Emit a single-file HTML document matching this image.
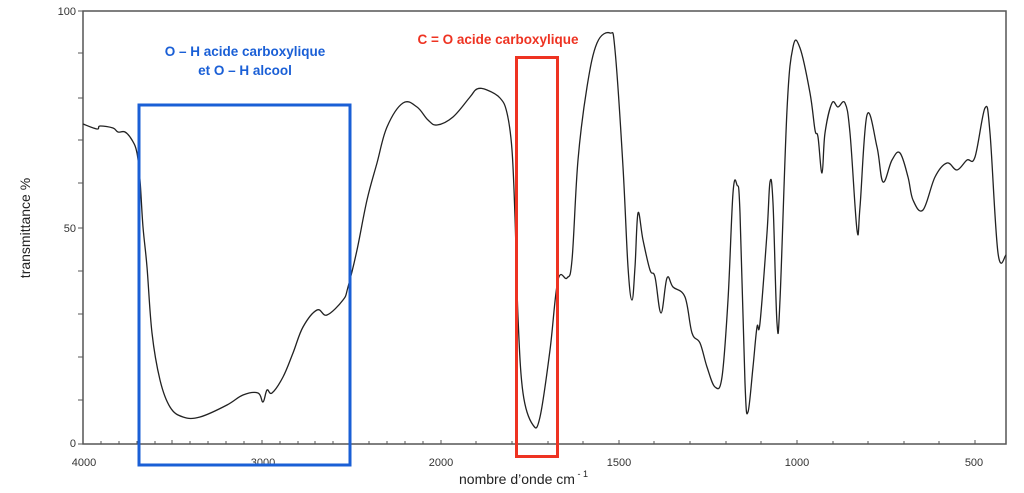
<!DOCTYPE html>
<html><head><meta charset="utf-8"><style>
body{margin:0;background:#fff;}
svg{display:block;font-family:"Liberation Sans",sans-serif;}
</style></head><body>
<svg width="1024" height="493" viewBox="0 0 1024 493">
<rect x="83" y="11" width="923" height="433" fill="none" stroke="#555" stroke-width="1.5"/>
<g stroke="#555" stroke-width="1">
<path d="M78 11H83M78 53H83M78 98H83M78 140H83M78 183H83M78 228H83M78 271H83M78 314H83M78 357H83M78 400H83M78 444H83"/>
<path d="M83 444v-4M101 444v-3M119 444v-3M137 444v-3M155 444v-3M172 444v-4M190 444v-3M208 444v-3M226 444v-3M244 444v-3M262 444v-4M280 444v-3M298 444v-3M315 444v-3M333 444v-3M351 444v-4M369 444v-3M387 444v-3M405 444v-3M423 444v-3M441 444v-4M476 444v-3M512 444v-3M548 444v-3M583 444v-3M619 444v-4M654 444v-3M690 444v-3M726 444v-3M761 444v-3M797 444v-4M833 444v-3M868 444v-3M904 444v-3M939 444v-3M975 444v-4"/>
</g>
<g font-size="11" fill="#333">
<text x="76" y="15" text-anchor="end">100</text>
<text x="76" y="232" text-anchor="end">50</text>
<text x="76" y="447" text-anchor="end">0</text>
<text x="84" y="466" text-anchor="middle">4000</text>
<text x="263" y="466" text-anchor="middle">3000</text>
<text x="441" y="466" text-anchor="middle">2000</text>
<text x="619" y="466" text-anchor="middle">1500</text>
<text x="797" y="466" text-anchor="middle">1000</text>
<text x="974" y="466" text-anchor="middle">500</text>
</g>
<text transform="translate(30,228) rotate(-90)" font-size="14" fill="#222" text-anchor="middle">transmittance %</text>
<text x="459" y="484" font-size="14" fill="#222">nombre d’onde cm<tspan font-size="9" dy="-7"> - 1</tspan></text>
<polyline id="curve" fill="none" stroke="#222" stroke-width="1.3" stroke-linejoin="round" points="83,124 97,129 100,126 113,128 118,132 125,132 132,140 137,153 140,180 143,227 147,267 152,333 160,380 170,407 183,417 200,417 227,405 243,395 258,393 263,402 267,390 272,393 283,377 293,353 303,327 317,310 327,315 343,300 348,287 357,250 367,200 377,163 387,127 403,103 417,107 428,120 437,125 453,117 470,97 477,89 487,90 500,98 507,113 512,150 515,217 518,317 523,393 533,425 540,417 550,350 558,280 567,278 572,260 578,160 587,87 597,43 610,33 615,50 623,167 628,267 632,300 635,267 638,213 643,240 650,270 655,277 661,313 667,278 673,287 685,297 692,333 700,343 707,367 715,387 722,377 728,300 733,193 737,185 740,213 745,383 748,412 753,367 757,327 760,323 767,233 770,182 773,203 777,323 780,300 787,110 793,47 800,48 810,93 815,130 818,137 822,173 825,133 832,103 838,107 845,103 850,133 857,230 860,207 867,115 877,147 883,182 892,160 900,153 908,177 913,200 923,210 935,177 947,163 957,170 967,160 975,157 985,108 990,133 998,253 1006,255"/>
<rect x="139" y="105" width="211" height="360" fill="none" stroke="#1a5fd6" stroke-width="3"/>
<rect x="516.5" y="57.5" width="41" height="399" fill="none" stroke="#ee3322" stroke-width="3"/>
<g font-weight="bold" font-size="13.5" text-anchor="middle">
<text x="245" y="56" fill="#1a5fd6">O – H acide carboxylique</text>
<text x="245" y="75" fill="#1a5fd6">et O – H alcool</text>
<text x="498" y="44" fill="#ee3322">C = O acide carboxylique</text>
</g>
</svg>
<script>
(function(){
var pl=document.getElementById('curve');
var pts=pl.getAttribute('points').trim().split(/\s+/).map(function(s){return s.split(',').map(Number);});
var d='M'+pts[0][0]+' '+pts[0][1];
for(var i=0;i<pts.length-1;i++){
var p0=pts[i-1]||pts[i],p1=pts[i],p2=pts[i+1],p3=pts[i+2]||p2;
var t=0.18;
var c1x=p1[0]+(p2[0]-p0[0])*t,c1y=p1[1]+(p2[1]-p0[1])*t;
var c2x=p2[0]-(p3[0]-p1[0])*t,c2y=p2[1]-(p3[1]-p1[1])*t;
d+=' C'+c1x.toFixed(1)+' '+c1y.toFixed(1)+' '+c2x.toFixed(1)+' '+c2y.toFixed(1)+' '+p2[0]+' '+p2[1];
}
var p=document.createElementNS('http://www.w3.org/2000/svg','path');
p.setAttribute('d',d);p.setAttribute('fill','none');p.setAttribute('stroke','#222');p.setAttribute('stroke-width','1.3');
pl.parentNode.replaceChild(p,pl);
})();
</script>
</body></html>
